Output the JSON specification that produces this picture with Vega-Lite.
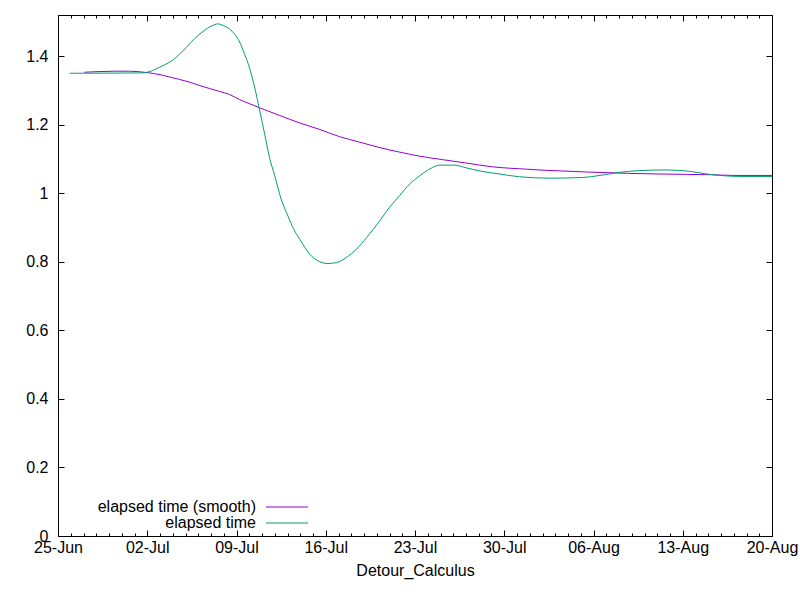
{
  "$schema": "https://vega.github.io/schema/vega-lite/v6.json",
  "width": 714,
  "height": 521,
  "autosize": {"type": "none"},
  "padding": {"left": 58, "top": 15, "right": 28, "bottom": 64},
  "background": "white",
  "config": {
    "font": "Liberation Sans",
    "view": {"stroke": "black", "strokeWidth": 1},
    "axis": {
      "domain": false,
      "grid": false,
      "tickColor": "black",
      "labelColor": "black",
      "labelFontSize": 16,
      "titleFontSize": 16,
      "titleFontWeight": "normal",
      "titleColor": "black"
    },
    "legend": {
      "orient": "none",
      "legendX": 221,
      "legendY": 484,
      "symbolType": "M-10.5,0H10.5",
      "symbolSize": 16,
      "symbolStrokeWidth": 1,
      "labelAlign": "right",
      "labelOffset": -39,
      "labelFontSize": 16,
      "labelColor": "black",
      "padding": 0,
      "rowPadding": 0
    }
  },
  "datasets": {
    "smooth": [
      {"t": "2017-06-27T02:00", "v": 1.353},
      {"t": "2017-06-29T11:00", "v": 1.356},
      {"t": "2017-06-30T15:00", "v": 1.356},
      {"t": "2017-07-01T23:00", "v": 1.352},
      {"t": "2017-07-03T00:00", "v": 1.346},
      {"t": "2017-07-03T18:00", "v": 1.339},
      {"t": "2017-07-04T13:00", "v": 1.332},
      {"t": "2017-07-05T08:00", "v": 1.324},
      {"t": "2017-07-06T03:00", "v": 1.314},
      {"t": "2017-07-07T16:00", "v": 1.297},
      {"t": "2017-07-08T11:00", "v": 1.288},
      {"t": "2017-07-09T06:00", "v": 1.273},
      {"t": "2017-07-10T01:00", "v": 1.261},
      {"t": "2017-07-10T20:00", "v": 1.249},
      {"t": "2017-07-12T09:00", "v": 1.227},
      {"t": "2017-07-13T23:00", "v": 1.205},
      {"t": "2017-07-15T13:00", "v": 1.186},
      {"t": "2017-07-17T02:00", "v": 1.165},
      {"t": "2017-07-18T16:00", "v": 1.149},
      {"t": "2017-07-20T06:00", "v": 1.133},
      {"t": "2017-07-21T19:00", "v": 1.120},
      {"t": "2017-07-23T09:00", "v": 1.108},
      {"t": "2017-07-25T04:00", "v": 1.098},
      {"t": "2017-07-27T01:00", "v": 1.088},
      {"t": "2017-07-29T02:00", "v": 1.077},
      {"t": "2017-07-30T10:00", "v": 1.073},
      {"t": "2017-07-31T20:00", "v": 1.070},
      {"t": "2017-08-02T04:00", "v": 1.067},
      {"t": "2017-08-03T12:00", "v": 1.065},
      {"t": "2017-08-05T11:00", "v": 1.062},
      {"t": "2017-08-08T16:00", "v": 1.058},
      {"t": "2017-08-13T07:00", "v": 1.055},
      {"t": "2017-08-15T06:00", "v": 1.054},
      {"t": "2017-08-16T22:00", "v": 1.052},
      {"t": "2017-08-20T00:00", "v": 1.052}
    ],
    "raw": [
      {"t": "2017-06-25T22:00", "v": 1.350},
      {"t": "2017-07-01T12:00", "v": 1.351},
      {"t": "2017-07-02T05:00", "v": 1.355},
      {"t": "2017-07-02T14:00", "v": 1.361},
      {"t": "2017-07-03T09:00", "v": 1.375},
      {"t": "2017-07-04T00:00", "v": 1.388},
      {"t": "2017-07-04T13:00", "v": 1.406},
      {"t": "2017-07-05T02:00", "v": 1.426},
      {"t": "2017-07-05T17:00", "v": 1.451},
      {"t": "2017-07-06T09:00", "v": 1.472},
      {"t": "2017-07-07T01:00", "v": 1.488},
      {"t": "2017-07-07T13:00", "v": 1.494},
      {"t": "2017-07-08T02:00", "v": 1.487},
      {"t": "2017-07-08T11:00", "v": 1.479},
      {"t": "2017-07-08T20:00", "v": 1.465},
      {"t": "2017-07-09T06:00", "v": 1.441},
      {"t": "2017-07-09T15:00", "v": 1.407},
      {"t": "2017-07-10T01:00", "v": 1.363},
      {"t": "2017-07-10T10:00", "v": 1.310},
      {"t": "2017-07-10T19:00", "v": 1.246},
      {"t": "2017-07-11T05:00", "v": 1.173},
      {"t": "2017-07-11T14:00", "v": 1.105},
      {"t": "2017-07-12T00:00", "v": 1.051},
      {"t": "2017-07-12T12:00", "v": 0.983},
      {"t": "2017-07-13T01:00", "v": 0.933},
      {"t": "2017-07-13T12:00", "v": 0.894},
      {"t": "2017-07-13T23:00", "v": 0.866},
      {"t": "2017-07-14T18:00", "v": 0.822},
      {"t": "2017-07-15T13:00", "v": 0.800},
      {"t": "2017-07-16T04:00", "v": 0.795},
      {"t": "2017-07-16T21:00", "v": 0.798},
      {"t": "2017-07-17T15:00", "v": 0.813},
      {"t": "2017-07-18T10:00", "v": 0.837},
      {"t": "2017-07-19T05:00", "v": 0.871},
      {"t": "2017-07-20T06:00", "v": 0.920},
      {"t": "2017-07-21T00:00", "v": 0.959},
      {"t": "2017-07-21T19:00", "v": 0.993},
      {"t": "2017-07-22T14:00", "v": 1.027},
      {"t": "2017-07-23T09:00", "v": 1.051},
      {"t": "2017-07-24T04:00", "v": 1.071},
      {"t": "2017-07-24T23:00", "v": 1.082},
      {"t": "2017-07-26T03:00", "v": 1.082},
      {"t": "2017-07-26T22:00", "v": 1.075},
      {"t": "2017-07-28T02:00", "v": 1.065},
      {"t": "2017-07-29T16:00", "v": 1.056},
      {"t": "2017-07-31T05:00", "v": 1.048},
      {"t": "2017-08-02T14:00", "v": 1.044},
      {"t": "2017-08-05T04:00", "v": 1.046},
      {"t": "2017-08-06T12:00", "v": 1.052},
      {"t": "2017-08-08T01:00", "v": 1.061},
      {"t": "2017-08-09T15:00", "v": 1.066},
      {"t": "2017-08-11T14:00", "v": 1.068},
      {"t": "2017-08-13T13:00", "v": 1.064},
      {"t": "2017-08-14T17:00", "v": 1.057},
      {"t": "2017-08-15T22:00", "v": 1.052},
      {"t": "2017-08-17T11:00", "v": 1.049},
      {"t": "2017-08-20T00:00", "v": 1.049}
    ]
  },
  "layer": [
    {
      "data": {"name": "smooth"},
      "mark": {"type": "line", "strokeWidth": 1, "interpolate": "monotone"},
      "encoding": {
        "x": {
          "field": "t", "type": "temporal",
          "scale": {"domain": [{"year": 2017, "month": "jun", "date": 25}, {"year": 2017, "month": "aug", "date": 20}], "nice": false},
          "axis": {"orient": "bottom", "tickCount": {"interval": "week", "step": 1}, "format": "%d-%b", "tickSize": -6, "labelPadding": 9, "labelFlush": false, "title": "Detour_Calculus", "titlePadding": 7}
        },
        "y": {
          "field": "v", "type": "quantitative",
          "scale": {"domain": [0, 1.52], "nice": false},
          "axis": {"orient": "left", "values": [0, 0.2, 0.4, 0.6, 0.8, 1, 1.2, 1.4], "format": "~g", "tickSize": -6, "labelPadding": 16, "title": null}
        },
        "color": {
          "datum": "elapsed time (smooth)",
          "scale": {"domain": ["elapsed time (smooth)", "elapsed time"], "range": ["#9400d3", "#009e73"]},
          "legend": {"title": null}
        }
      }
    },
    {
      "data": {"name": "raw"},
      "mark": {"type": "line", "strokeWidth": 1, "interpolate": "monotone"},
      "encoding": {
        "x": {
          "field": "t", "type": "temporal",
          "axis": {"orient": "bottom", "tickCount": {"interval": "day", "step": 1}, "tickSize": -3, "labels": false, "title": null}
        },
        "y": {
          "field": "v", "type": "quantitative",
          "axis": {"orient": "right", "values": [0, 0.2, 0.4, 0.6, 0.8, 1, 1.2, 1.4], "tickSize": -6, "labels": false, "title": null}
        },
        "color": {"datum": "elapsed time"}
      }
    },
    {
      "data": {"name": "raw"},
      "mark": {"type": "line", "strokeOpacity": 0},
      "encoding": {
        "x": {
          "field": "t", "type": "temporal",
          "axis": {"orient": "top", "tickCount": {"interval": "week", "step": 1}, "tickSize": -6, "labels": false, "title": null}
        },
        "y": {"field": "v", "type": "quantitative", "axis": null}
      }
    },
    {
      "data": {"name": "raw"},
      "mark": {"type": "line", "strokeOpacity": 0},
      "encoding": {
        "x": {
          "field": "t", "type": "temporal",
          "axis": {"orient": "top", "tickCount": {"interval": "day", "step": 1}, "tickSize": -3, "labels": false, "title": null}
        },
        "y": {"field": "v", "type": "quantitative", "axis": null}
      }
    }
  ],
  "resolve": {"axis": {"x": "independent", "y": "independent"}}
}
